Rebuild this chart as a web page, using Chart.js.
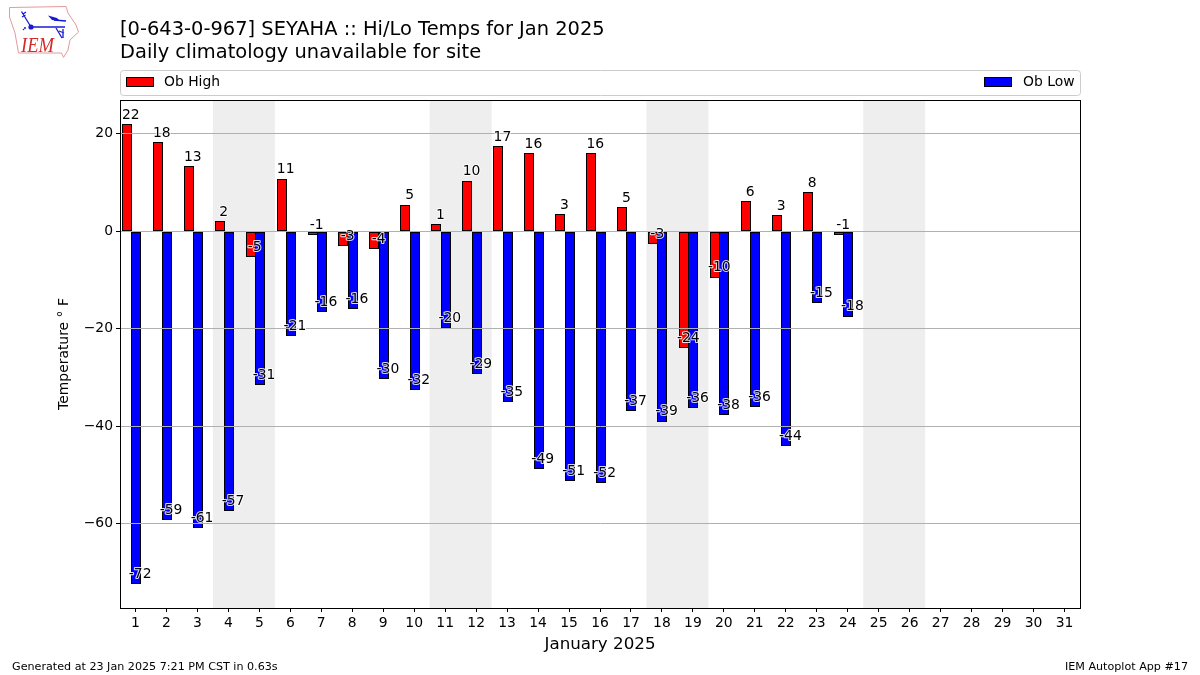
<!DOCTYPE html>
<html>
<head>
<meta charset="utf-8">
<title>Hi/Lo Temps</title>
<script src="https://cdn.jsdelivr.net/npm/chart.js@4"></script>
<style>
html, body { margin: 0; padding: 0; background: #fff; }
#wrap { position: relative; width: 1200px; height: 675px; overflow: hidden; }
#tempChart { position: absolute; left: 0; top: 0; }
#logo { position: absolute; left: 0; top: 0; }
.foot { position: absolute; top: 660px; font: 11.15px "DejaVu Sans", sans-serif; color: #000; white-space: nowrap; }
</style>
</head>
<body>
<div id="wrap">
  <canvas id="tempChart" width="1200" height="675"></canvas>
  <svg id="logo" width="90" height="62" viewBox="0 0 90 62">
    <path d="M9.5 7.5 L66 6.5 L68 13 L76 25 L78.5 32 L70 40 L68 50 L63.5 57.5 L61.5 53 L18.5 53 L15 33 L9.5 17 Z" fill="#fff" stroke="#e39a9a" stroke-width="1"/>
    <g stroke="#1a1ad6" fill="none" stroke-width="1.3">
      <path d="M31 27 L65 27"/>
      <path d="M31 27 L23 14 M23 14 L21.5 11.5 M23 14 L26 12 M22 17 L25.5 15"/>
      <path d="M54 20 L66 21"/>
      <path d="M56 28 L62 38 M59 31 L64 33 M63 29 L63 38"/>
    </g>
    <circle cx="31" cy="27" r="2.6" fill="#1a1ad6"/>
    <path d="M48 15.5 L57 18 L60 21 L52 20 Z" fill="#1a1ad6"/>
    <circle cx="25" cy="28" r="1" fill="#1a1ad6"/>
    <circle cx="23.5" cy="29.5" r="0.8" fill="#1a1ad6"/>
    <text x="21" y="52" font-family="Liberation Serif" font-style="italic" font-size="21" fill="#d42a2a" textLength="33" lengthAdjust="spacingAndGlyphs">IEM</text>
  </svg>
  <div class="foot" style="left:12px">Generated at 23 Jan 2025 7:21 PM CST in 0.63s</div>
  <div class="foot" style="right:12px">IEM Autoplot App #17</div>
</div>
<script>
const days = ['1','2','3','4','5','6','7','8','9','10','11','12','13','14','15','16','17','18','19','20','21','22','23','24','25','26','27','28','29','30','31'];
const obHigh = [21.8,18.1,13.2,1.9,-5.2,10.6,-0.8,-3.0,-3.6,5.3,1.3,10.2,17.3,15.9,3.4,15.9,4.8,-2.6,-23.9,-9.5,6.0,3.2,7.9,-0.8];
const obLow = [-72.3,-59.2,-60.8,-57.3,-31.5,-21.4,-16.5,-15.9,-30.3,-32.5,-19.8,-29.2,-35.0,-48.7,-51.2,-51.6,-36.8,-39.0,-36.2,-37.6,-36.0,-44.0,-14.7,-17.5];
const highLabels = ['22','18','13','2','-5','11','-1','-3','-4','5','1','10','17','16','3','16','5','-3','-24','-10','6','3','8','-1'];
const lowLabels = ['-72','-59','-61','-57','-31','-21','-16','-16','-30','-32','-20','-29','-35','-49','-51','-52','-37','-39','-36','-38','-36','-44','-15','-18'];
const weekendStarts = [4, 11, 18, 25];
const titleLines = ['[0-643-0-967] SEYAHA :: Hi/Lo Temps for Jan 2025', 'Daily climatology unavailable for site'];

const FONT = '"DejaVu Sans", sans-serif';

// weekend bands go under the grid
const weekendShade = {
    id: 'weekendShade',
    beforeDraw(chart) {
        const x = chart.scales.x;
        const area = chart.chartArea;
        const ctx = chart.ctx;
        ctx.save();
        ctx.fillStyle = '#eeeeee';
        weekendStarts.forEach(day => {
            const left = x.getPixelForValue(day - 1.5);
            const right = x.getPixelForValue(day + 0.5);
            ctx.fillRect(left, area.top, right - left, area.bottom - area.top);
        });
        ctx.restore();
    }
};

// snap bars to whole pixels so the black edges stay crisp
const snapBars = {
    id: 'snapBars',
    beforeDatasetsDraw(chart) {
        [0, 1].forEach(i => {
            chart.getDatasetMeta(i).data.forEach(bar => {
                bar.x = Math.round(bar.x - 4.5) + 5;
                bar.width = 10;
                bar.y = bar.y < bar.base ? Math.floor(bar.y) : Math.ceil(bar.y);
                bar.base = Math.round(bar.base);
            });
        });
    }
};

// value labels with a white halo, axes frame, and the expanded legend
const overlays = {
    id: 'overlays',
    afterDraw(chart) {
        const ctx = chart.ctx;
        const area = chart.chartArea;
        const x = chart.scales.x;
        const shift = 0.15 * (x.getPixelForValue(1) - x.getPixelForValue(0));

        ctx.save();
        ctx.strokeStyle = '#000';
        ctx.lineWidth = 1;
        ctx.strokeRect(area.left + 0.5, area.top + 0.5, area.right - area.left, area.bottom - area.top);

        ctx.font = '13.9px ' + FONT;
        ctx.textAlign = 'center';
        ctx.textBaseline = 'middle';
        ctx.lineJoin = 'round';
        [highLabels, lowLabels].forEach((labels, i) => {
            labels.forEach((text, j) => {
                const value = chart.data.datasets[i].data[j];
                const end = chart.scales.y.getPixelForValue(value);
                const px = x.getPixelForValue(j) + (i === 0 ? -shift : shift);
                const py = end - 9.5;
                ctx.strokeStyle = 'rgba(255,255,255,0.85)';
                ctx.lineWidth = 2;
                ctx.strokeText(text, px, py);
                ctx.fillStyle = '#000';
                ctx.fillText(text, px, py);
            });
        });

        // legend box
        ctx.strokeStyle = '#cccccc';
        ctx.lineWidth = 1;
        ctx.fillStyle = '#fff';
        ctx.beginPath();
        ctx.roundRect(area.left + 0.5, 70.5, area.right - area.left, 25, 3);
        ctx.fill();
        ctx.stroke();
        ctx.textAlign = 'left';
        const entries = [
            { ds: chart.data.datasets[0], boxX: area.left + 6, textX: area.left + 44 },
            { ds: chart.data.datasets[1], boxX: area.right - 96, textX: area.right - 57 }
        ];
        entries.forEach(entry => {
            ctx.fillStyle = entry.ds.backgroundColor;
            ctx.strokeStyle = '#000';
            ctx.fillRect(entry.boxX, 77, 28, 10);
            ctx.strokeRect(entry.boxX + 0.5, 77.5, 27, 9);
            ctx.fillStyle = '#000';
            ctx.fillText(entry.ds.label, entry.textX, 82);
        });
        ctx.restore();
    }
};

new Chart(document.getElementById('tempChart').getContext('2d'), {
    type: 'bar',
    data: {
        labels: days,
        datasets: [
            { label: 'Ob High', data: obHigh, backgroundColor: '#ff0000', borderColor: '#000', borderWidth: 1, borderSkipped: false, inflateAmount: 0 },
            { label: 'Ob Low', data: obLow, backgroundColor: '#0000ff', borderColor: '#000', borderWidth: 1, borderSkipped: false, inflateAmount: 0 },
            // empty third slot so the low bar sits centred on the tick
            { label: '', data: [], backgroundColor: 'transparent' }
        ]
    },
    options: {
        responsive: false,
        animation: false,
        devicePixelRatio: 1,
        datasets: { bar: { categoryPercentage: 0.9, barPercentage: 1 } },
        layout: { padding: { left: 56, right: 120, top: 0, bottom: 20 } },
        scales: {
            x: {
                afterFit: scale => { scale.height = 47; },
                grid: { offset: false, drawOnChartArea: false, drawTicks: true, tickLength: 4, tickColor: '#000' },
                border: { color: '#000' },
                ticks: { color: '#000', font: { family: FONT, size: 13.9 }, maxRotation: 0, autoSkip: false, padding: 3 },
                title: { display: true, text: 'January 2025', color: '#000', font: { family: FONT, size: 16.7 }, padding: { top: 3, bottom: 0 } }
            },
            y: {
                min: -77.3,
                max: 26.87,
                afterFit: scale => { scale.width = 64; },
                // grid sits over the bars, border has to come after it
                grid: { color: '#b0b0b0', lineWidth: 1, tickLength: 4, tickColor: '#000', z: 1 },
                border: { color: '#000', z: 2 },
                ticks: {
                    stepSize: 20,
                    includeBounds: false,
                    color: '#000',
                    font: { family: FONT, size: 13.9 },
                    padding: 3,
                    callback: value => String(value).replace('-', '\u2212')
                },
                title: { display: true, text: 'Temperature \u00B0 F', color: '#000', font: { family: FONT, size: 13.9 }, padding: 0 }
            }
        },
        plugins: {
            legend: { display: false },
            tooltip: { enabled: false },
            title: {
                display: true,
                text: titleLines,
                align: 'start',
                fullSize: false,
                color: '#000',
                font: { family: FONT, size: 19.45, weight: 'normal', lineHeight: 1.157 },
                padding: { top: 19, bottom: 36 }
            }
        }
    },
    plugins: [weekendShade, snapBars, overlays]
});
</script>
</body>
</html>
